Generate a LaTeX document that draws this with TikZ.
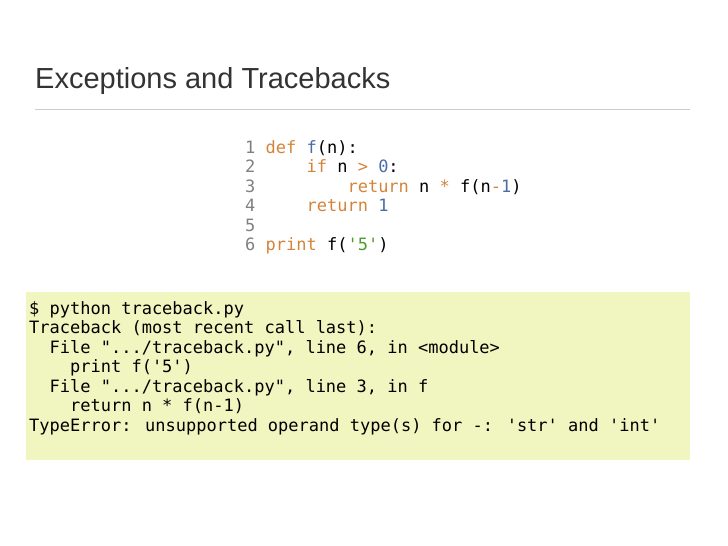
\documentclass[tikz,border=0pt]{standalone}
\usepackage{fontspec}
\setmainfont{Liberation Sans}
\newfontfamily\codefont{DejaVu Sans Mono}
\definecolor{kw}{HTML}{D4843A}
\definecolor{fn}{HTML}{4A6DA8}
\definecolor{st}{HTML}{4E9A2A}
\definecolor{ln}{HTML}{808080}
\definecolor{term}{HTML}{F1F5C0}
\newcommand{\K}[1]{\textcolor{kw}{#1}}
\newcommand{\F}[1]{\textcolor{fn}{#1}}
\newcommand{\G}[1]{\textcolor{st}{#1}}
\newcommand{\N}[1]{\textcolor{ln}{#1}}
\begin{document}
\begin{tikzpicture}[x=1pt,y=-1pt,
  code/.style={anchor=base west,inner sep=0pt,font=\codefont\fontsize{17}{19.5}\selectfont}]
\useasboundingbox (0,0) rectangle (728,546);
\node[anchor=base west,inner sep=0pt,font=\fontsize{29}{33}\selectfont,text=black!80] (title) at (35,88) {Exceptions and Tracebacks};
\draw[black!20,line width=0.8pt] (35,109) -- (690,109);
\node[code] (c1) at (245,153) {\N{1} \K{def} \F{f}(n):};
\node[code] (c2) at (245,172.5) {\N{2}\ \ \ \ \ \K{if} n \K{>} \F{0}:};
\node[code] (c3) at (245,192) {\N{3}\ \ \ \ \ \ \ \ \ \K{return} n \K{*} f(n\K{-}\F{1})};
\node[code] (c4) at (245,211.5) {\N{4}\ \ \ \ \ \K{return} \F{1}};
\node[code] (c5) at (245,231) {\N{5}};
\node[code] (c6) at (245,250.5) {\N{6} \K{print} f(\G{'5'})};
\fill[term] (26,292) rectangle (690,460);
\node[code] (t1) at (29,314) {\$ python traceback.py};
\node[code] (t2) at (29,333.5) {Traceback (most recent call last):};
\node[code] (t3) at (29,353) {\ \ File ".../traceback.py", line 6, in <module>};
\node[code] (t4) at (29,372.5) {\ \ \ \ print f('5')};
\node[code] (t5) at (29,392) {\ \ File ".../traceback.py", line 3, in f};
\node[code] (t6) at (29,411.5) {\ \ \ \ return n * f(n-1)};
\node[code] (t7) at (29,431) {TypeError: unsupported operand type(s) for -: 'str' and 'int'};
\end{tikzpicture}
\end{document}
